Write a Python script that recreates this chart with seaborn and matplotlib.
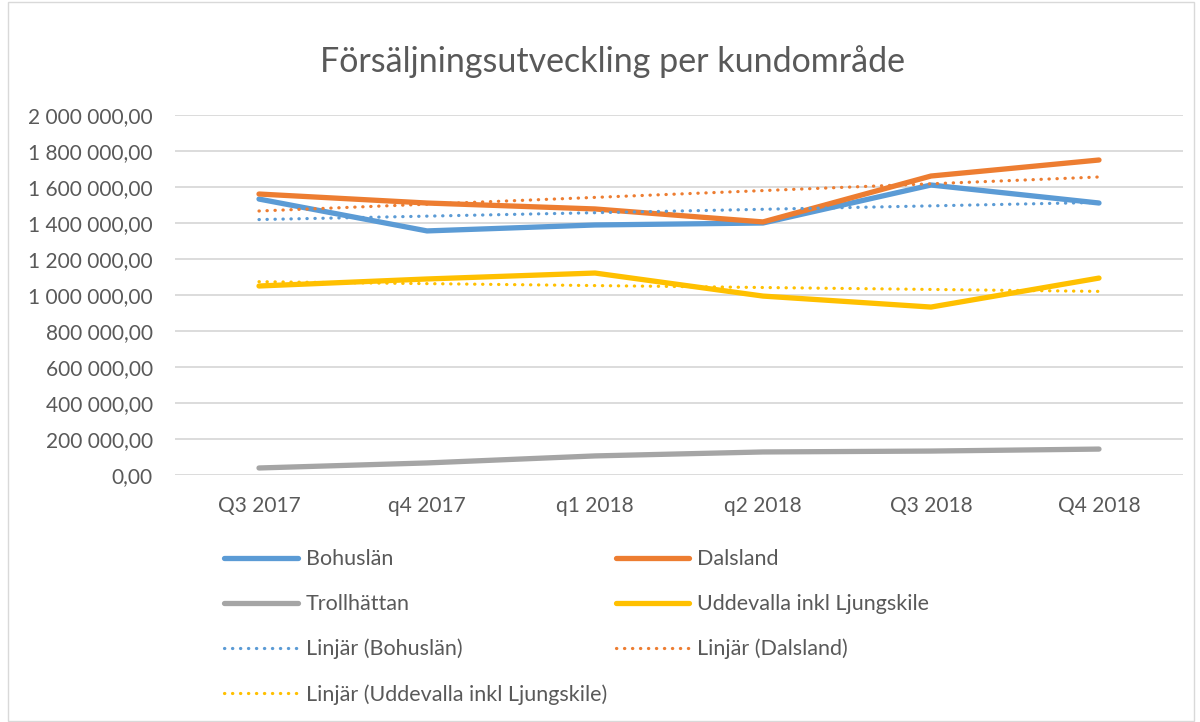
import numpy as np
import pandas as pd
import matplotlib
matplotlib.use("Agg")
import matplotlib.pyplot as plt
import seaborn as sns
from matplotlib.ticker import FuncFormatter, MultipleLocator
from matplotlib.patches import Rectangle

quarters = ["Q3 2017", "q4 2017", "q1 2018", "q2 2018", "Q3 2018", "Q4 2018"]
bohuslan = [1533000, 1356000, 1389000, 1400000, 1611000, 1511000]
dalsland = [1561000, 1511000, 1478000, 1406000, 1661000, 1750000]
trollhattan = [39000, 67000, 106000, 128000, 133000, 144000]
uddevalla = [1050000, 1089000, 1122000, 994000, 933000, 1094000]

series = {
    "Bohuslän": (bohuslan, "#5B9BD5"),
    "Dalsland": (dalsland, "#ED7D31"),
    "Trollhättan": (trollhattan, "#A5A5A5"),
    "Uddevalla inkl Ljungskile": (uddevalla, "#FFC000"),
}
trend_for = ["Bohuslän", "Dalsland", "Uddevalla inkl Ljungskile"]

sns.set_style("white")
plt.rcParams["font.family"] = ["Lato", "DejaVu Sans"]
text_col = "#595959"

fig = plt.figure(figsize=(12, 7.22), dpi=100)
ax = fig.add_axes([175 / 1200, 1 - 475 / 722, 1008 / 1200, 360 / 722])

xs = np.arange(len(quarters))
handles = {}
for name, (vals, col) in series.items():
    df = pd.DataFrame({"x": xs, "y": vals})
    sns.lineplot(data=df, x="x", y="y", ax=ax, color=col, linewidth=3.8,
                 solid_capstyle="round", label=name)
    handles[name] = ax.lines[-1]

# linear trendlines (least squares fit, like Excel's "Linjär")
for name in trend_for:
    vals, col = series[name]
    k, m = np.polyfit(xs, vals, 1)
    df = pd.DataFrame({"x": xs, "y": k * xs + m})
    sns.lineplot(data=df, x="x", y="y", ax=ax, color=col, linewidth=2.3,
                 linestyle=(0, (0.1, 2.4)), dash_capstyle="round",
                 label="Linjär (" + name + ")")
    handles["Linjär (" + name + ")"] = ax.lines[-1]

ax.set_xlim(-0.5, len(quarters) - 0.5)
ax.set_ylim(0, 2000000)
ax.yaxis.set_major_locator(MultipleLocator(200000))
ax.yaxis.set_major_formatter(FuncFormatter(
    lambda v, p: f"{v:,.2f}".replace(",", " ").replace(".", ",")))
ax.set_xticks(xs)
ax.set_xticklabels(quarters)
ax.grid(axis="y", color="#D9D9D9", linewidth=1.3)
ax.set_axisbelow(True)
for s in ax.spines.values():
    s.set_visible(False)
ax.tick_params(axis="both", length=0, labelsize=15, colors=text_col)
ax.tick_params(axis="y", pad=16)
ax.tick_params(axis="x", pad=15)
ax.set_xlabel("")
ax.set_ylabel("")
if ax.get_legend():
    ax.get_legend().remove()

fig.text(0.51, 1 - 62 / 722, "Försäljningsutveckling per kundområde",
         ha="center", va="center", fontsize=24.5, color=text_col)

order = ["Bohuslän", "Trollhättan", "Linjär (Bohuslän)",
         "Linjär (Uddevalla inkl Ljungskile)", "Dalsland",
         "Uddevalla inkl Ljungskile", "Linjär (Dalsland)"]
fig.legend([handles[n] for n in order], order, ncol=2,
           loc="upper left", bbox_to_anchor=(205 / 1200, 1 - 530 / 722),
           frameon=False, fontsize=15.5, handlelength=3.4,
           handletextpad=0.38, columnspacing=0.4, labelspacing=1.15,
           labelcolor=text_col)

fig.patches.append(Rectangle((8 / 1200, 0.002), 1186 / 1200, 0.995,
                             transform=fig.transFigure, fill=False,
                             edgecolor="#D9D9D9", linewidth=1))

fig.savefig("out.png", dpi=100)
